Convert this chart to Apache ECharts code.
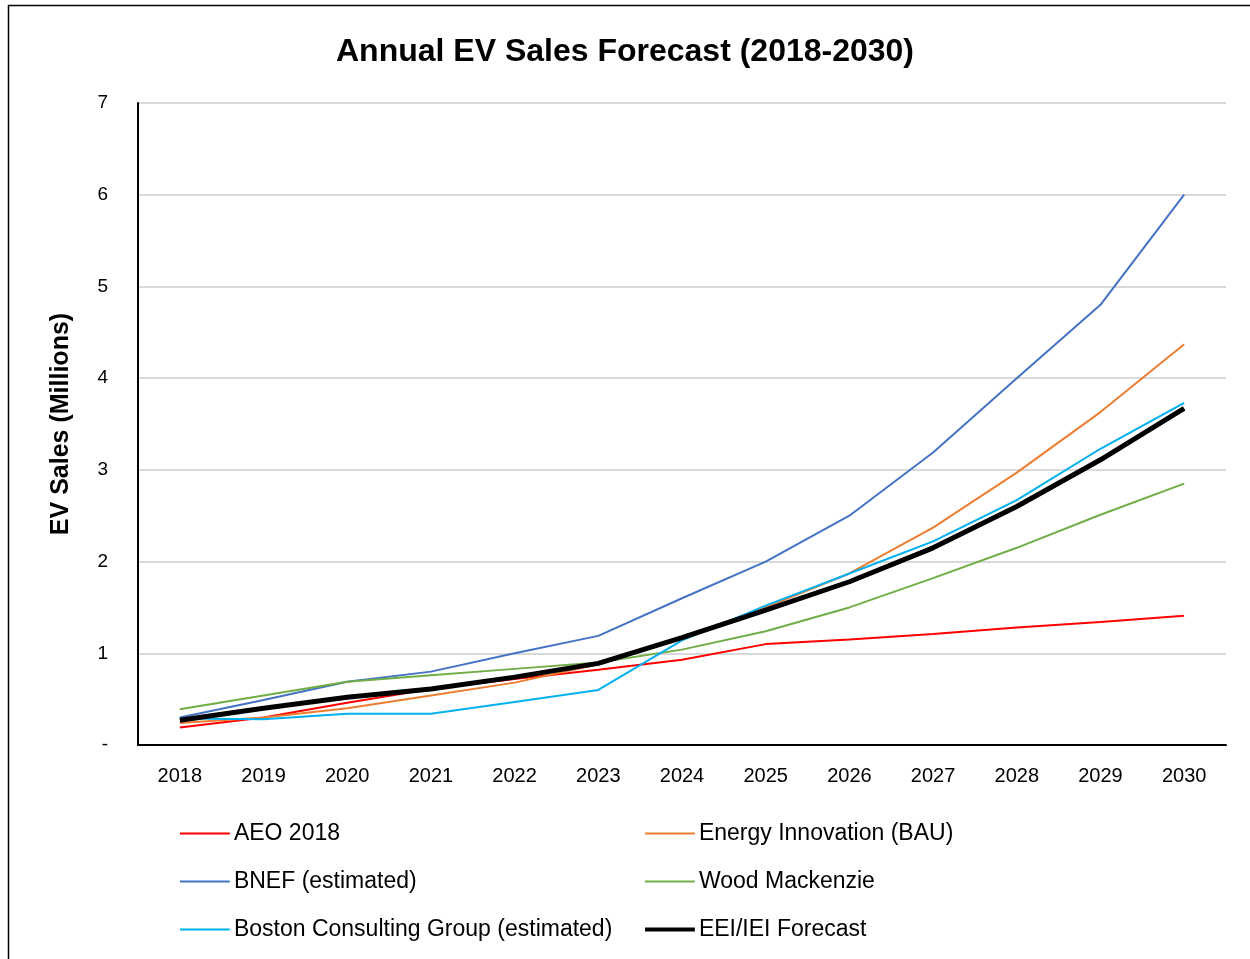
<!DOCTYPE html>
<html><head><meta charset="utf-8">
<script src="https://cdn.jsdelivr.net/npm/echarts@6/dist/echarts.min.js"></script>
<style>html,body{margin:0;padding:0;background:#fff}#c{width:1250px;height:959px}</style>
</head><body><div id="c"></div>
<script>
const years = ['2018','2019','2020','2021','2022','2023','2024','2025','2026','2027','2028','2029','2030'];
const aeo2018 = [0.19,0.30,0.46,0.61,0.72,0.82,0.93,1.10,1.15,1.21,1.28,1.34,1.41];
const energyInnovation = [0.24,0.30,0.40,0.54,0.68,0.88,1.17,1.50,1.87,2.37,2.97,3.63,4.37];
const bnef = [0.30,0.49,0.69,0.80,1.00,1.19,1.60,2.00,2.50,3.19,4.00,4.80,6.00];
const woodMackenzie = [0.39,0.54,0.69,0.76,0.83,0.90,1.04,1.24,1.50,1.82,2.15,2.51,2.85];
const bcg = [0.29,0.28,0.34,0.34,0.47,0.60,1.14,1.52,1.87,2.22,2.67,3.23,3.73];
const eei = [0.27,0.40,0.52,0.61,0.74,0.89,1.17,1.47,1.78,2.15,2.60,3.11,3.67];
const yTicks = ['-','1','2','3','4','5','6','7'];

const font = 'Liberation Sans';
const thinIcon = 'path://M0,0L50,0L50,0.05L0,0.05ZM0,6L50,6L50,8L0,8ZM0,14L50,14L50,14.05L0,14.05Z';
const thickIcon = 'path://M0,0L50,0L50,0.05L0,0.05ZM0,5L50,5L50,9L0,9ZM0,14L50,14L50,14.05L0,14.05Z';
function s(name, data, color, width, z) {
  return {name, type:'line', data, showSymbol:false, symbol:'none', z: z||2,
    lineStyle:{color, width}, itemStyle:{color}};
}
const legendText = {fontFamily:font, fontSize:23, color:'#000', padding:[0,0,0,-1]};
const chart = echarts.init(document.getElementById('c'));
chart.setOption({
  animation:false,
  backgroundColor:'#fff',
  textStyle:{fontFamily:font},
  title:{text:'Annual EV Sales Forecast (2018-2030)', left:'center', top:31,
    textStyle:{fontFamily:font, fontSize:32, fontWeight:'bold', color:'#000'}},
  graphic:[{type:'rect', shape:{x:8.5,y:5.5,width:1260,height:970}, style:{fill:'none', stroke:'#000', lineWidth:1.5}, silent:true}],
  grid:{left:138, right:24, top:103, bottom:214},
  legend:[
    {orient:'vertical', left:175, top:817, itemWidth:50, itemHeight:14, itemGap:25,
     data:[{name:'AEO 2018', icon:thinIcon},{name:'BNEF (estimated)', icon:thinIcon},{name:'Boston Consulting Group (estimated)', icon:thinIcon}],
     textStyle:legendText},
    {orient:'vertical', left:640, top:817, itemWidth:50, itemHeight:14, itemGap:25,
     data:[{name:'Energy Innovation (BAU)', icon:thinIcon},{name:'Wood Mackenzie', icon:thinIcon},{name:'EEI/IEI Forecast', icon:thickIcon}],
     textStyle:legendText}
  ],
  xAxis:{type:'category', data:years, boundaryGap:true,
    axisLine:{lineStyle:{color:'#000', width:2}}, axisTick:{show:false},
    axisLabel:{fontFamily:font, fontSize:20, color:'#000', margin:21}},
  yAxis:{type:'value', min:0, max:7, interval:1,
    name:'EV Sales (Millions)', nameLocation:'middle', nameGap:64, nameRotate:90,
    nameTextStyle:{fontFamily:font, fontSize:25, fontWeight:'bold', color:'#000'},
    axisLine:{show:true, lineStyle:{color:'#000', width:2}}, axisTick:{show:false},
    axisLabel:{fontFamily:font, fontSize:19, color:'#000', margin:30, formatter:(v)=>yTicks[v]},
    splitLine:{lineStyle:{color:'#d9d9d9', width:2}}},
  series:[
    s('AEO 2018', aeo2018, '#ff0000', 2),
    s('Energy Innovation (BAU)', energyInnovation, '#ed7d31', 2),
    s('BNEF (estimated)', bnef, '#4472c4', 2),
    s('Wood Mackenzie', woodMackenzie, '#70ad47', 2),
    s('Boston Consulting Group (estimated)', bcg, '#00b0f0', 2),
    s('EEI/IEI Forecast', eei, '#000000', 5, 5)
  ]
});
</script></body></html>
